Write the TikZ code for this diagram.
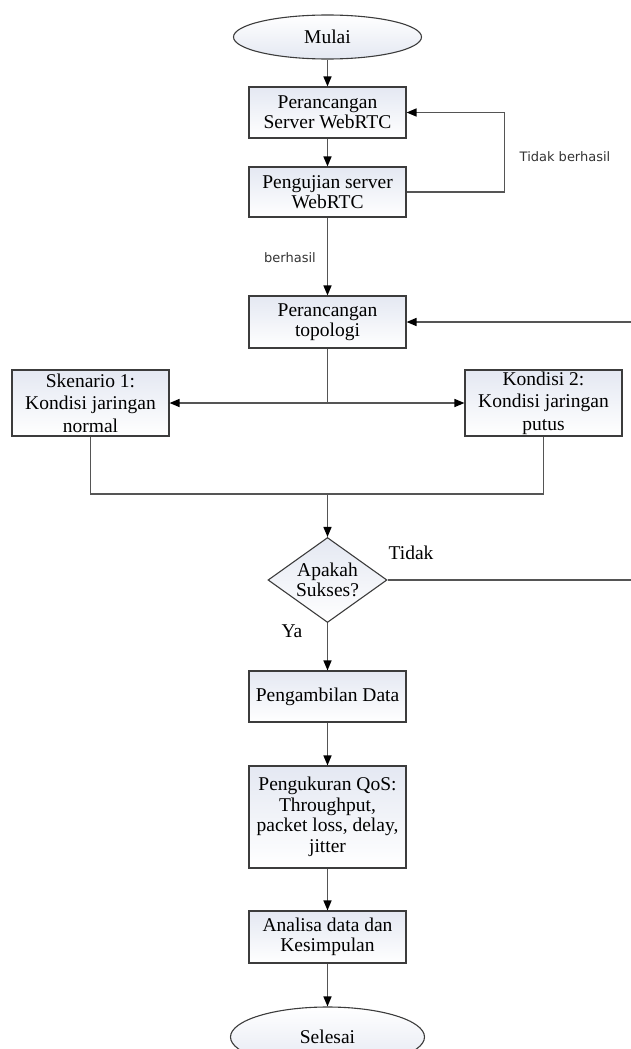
\documentclass[tikz,border=0pt]{standalone}
\usepackage{fontspec}
\setmainfont{Liberation Serif}
\newfontfamily\labelfont{DejaVu Sans}
\usetikzlibrary{arrows.meta,shapes.geometric,calc,positioning}

\definecolor{garis}{HTML}{555555}
\definecolor{tepi}{HTML}{3C3C3C}
\definecolor{isi}{HTML}{E4E8F2}
\definecolor{ketcol}{HTML}{333333}

\begin{document}
\begin{tikzpicture}[x=1pt,y=-1pt,
	teks/.style={font=\fontsize{19.5}{20.5}\selectfont,align=center},
	proses/.style={teks,draw=tepi,line width=1.1pt,top color=isi,bottom color=white,minimum width=157pt,minimum height=51pt,inner sep=1pt},
	terminal/.style={teks,ellipse,draw=tepi,line width=1.1pt,top color=white,bottom color=isi,inner sep=0pt},
	keputusan/.style={teks,diamond,aspect=1.4,draw=tepi,line width=1.1pt,top color=isi,bottom color=white,inner sep=0pt,minimum width=119pt,minimum height=85pt},
	panah/.style={draw=garis,line width=1.5pt,-{Triangle[length=10pt,width=8pt,color=black]}},
	garisan/.style={draw=garis,line width=1.5pt},
	ket/.style={font=\labelfont\fontsize{13}{15}\selectfont,text=ketcol}
]

		\useasboundingbox (0,0) rectangle (631,1049);

		\node[terminal,minimum width=188pt,minimum height=44pt] (mulai) at (327.5,37) {Mulai};
		\node[proses] (rancang) at (327.5,112.5) {Perancangan\\Server WebRTC};
		\node[proses,minimum height=50pt] (uji) at (327.5,192) {Pengujian server\\WebRTC};
		\node[proses,minimum height=52pt] (topo) at (327.5,322) {Perancangan\\topologi};

		\node[proses,minimum height=66pt,inner sep=0pt,font=\fontsize{19.5}{22.5}\selectfont] (sken) at (90.5,403) {Skenario 1:\\Kondisi jaringan\\normal};
		\node[proses,minimum height=66pt,inner sep=0pt,font=\fontsize{19.5}{22.5}\selectfont] (kond) at (543.5,403) {Kondisi 2:\\Kondisi jaringan\\putus};

		\node[keputusan] (sukses) at (327.5,580) {Apakah\\Sukses?};

		\node[proses] (ambil) at (327.5,696.5) {Pengambilan Data};
		\node[proses,minimum height=102pt] (qos) at (327.5,817) {Pengukuran QoS:\\Throughput,\\packet loss, delay,\\jitter};
		\node[proses,minimum height=52pt] (analisa) at (327.5,937) {Analisa data dan\\Kesimpulan};
		\node[terminal,minimum width=194pt,minimum height=60pt] (selesai) at (327.5,1037) {Selesai};

		\draw[panah] (mulai) -- (rancang);
		\draw[panah] (rancang) -- (uji);
		\draw[panah] (uji.east) --++ (98,0) |- (rancang.east);
		\node[ket] (gagal) at (565,157) {Tidak berhasil};

		\draw[panah] (uji) -- (topo);
		\node[ket] (berhasil) at (290,258) {berhasil};

		\coordinate (cabang) at (327.5,403);
		\draw[garisan] (topo) -- (cabang);
		\draw[panah] (cabang) -- (sken);
		\draw[panah] (cabang) -- (kond);

		\coordinate (gabung) at (327.5,494);
		\draw[garisan] (sken.south) |- (gabung) -| (kond.south);
		\draw[panah] (gabung) -- (sukses);

		\coordinate (tepikanan) at (632,580);
		\draw[panah] (sukses.east) -- (tepikanan) |- (topo.east);
		\node[teks] (tidak) at (411,553) {Tidak};

		\draw[panah] (sukses) -- (ambil);
		\node[teks] (ya) at (292,631) {Ya};

		\draw[panah] (ambil) -- (qos);
		\draw[panah] (qos) -- (analisa);
		\draw[panah] (analisa) -- (selesai);

	\end{tikzpicture}
\end{document}
